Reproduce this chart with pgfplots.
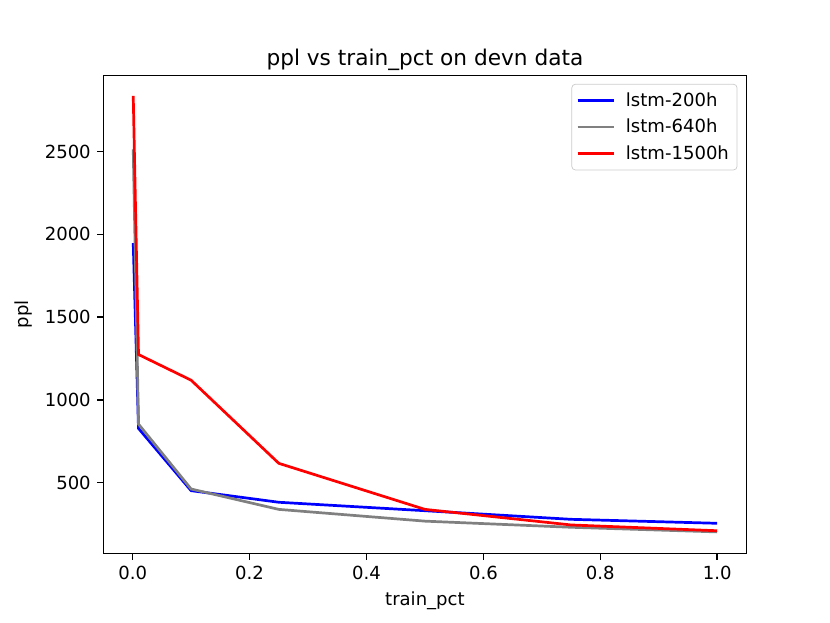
\documentclass[border=0pt]{standalone}
\usepackage{fontspec}
\setmainfont{DejaVu Sans}
\usepackage{pgfplots}
\pgfplotsset{compat=1.18}
\begin{document}
\begin{tikzpicture}[x=1pt,y=1pt]
\path (0,0) rectangle (459.8,345.1);
\begin{axis}[
  at={(57.3pt,38.6pt)}, anchor=south west,
  scale only axis, width=356.2pt, height=264.8pt,
  xmin=-0.05, xmax=1.05, ymin=74, ymax=2960,
  xtick={0,0.2,0.4,0.6,0.8,1.0},
  ytick={500,1000,1500,2000,2500},
  xticklabel style={/pgf/number format/.cd,fixed,fixed zerofill,precision=1},
  yticklabel style={/pgf/number format/.cd,fixed,precision=0,1000 sep={}},
  /pgf/number format/assume math mode=true,
  tick align=outside, tickpos=left,
  major tick length=3.5pt,
  every tick/.style={black,line width=0.8pt},
  axis line style={line width=0.8pt},
  ticklabel style={font=\fontsize{10}{12}\selectfont},
  xlabel={train\_pct}, ylabel={ppl},
  label style={font=\fontsize{10}{12}\selectfont},
  title={ppl vs train\_pct on devn data},
  title style={font=\fontsize{12}{14}\selectfont, yshift=-7pt},
  legend style={at={(rel axis cs:0.986,0.982)}, anchor=north east,
    draw=black!20, rounded corners=2pt, fill=white, fill opacity=0.8, text opacity=1,
    font=\fontsize{10}{12}\selectfont, row sep=1.6pt, inner sep=2.5pt,
    /tikz/every odd column/.append style={column sep=4pt}},
  legend cell align=left,
  legend image code/.code={\draw[#1, line width=1.5pt] (0pt,0pt) -- (20pt,0pt);},
]
\addplot[blue, line width=1.5pt] coordinates {
 (0.001,1947) (0.01,828) (0.1,452) (0.25,382) (0.5,331) (0.75,279) (1.0,255)};
\addlegendentry{lstm-200h}
\addplot[gray, line width=1.5pt] coordinates {
 (0.001,2512) (0.01,854) (0.1,462) (0.25,339) (0.5,268) (0.75,231) (1.0,203)};
\addlegendentry{lstm-640h}
\addplot[red, line width=1.5pt] coordinates {
 (0.001,2835) (0.01,1274) (0.1,1119) (0.25,617) (0.5,339) (0.75,245) (1.0,210)};
\addlegendentry{lstm-1500h}
\end{axis}
\end{tikzpicture}
\end{document}
